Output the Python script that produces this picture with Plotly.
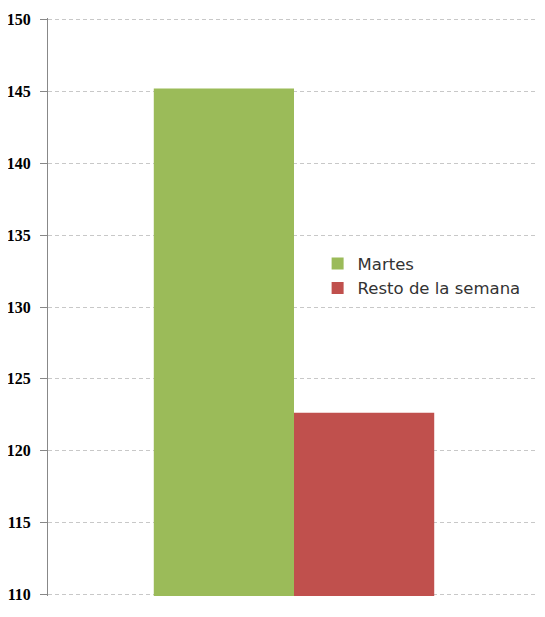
import plotly.graph_objects as go

categories = [""]
series_names = ["Martes", "Resto de la semana"]
series_values = [[145.2], [122.65]]
colors = ["#9BBB59", "#C0504D"]
y_ticks = [110, 115, 120, 125, 130, 135, 140, 145, 150]

fig = go.Figure()
for name, vals, col in zip(series_names, series_values, colors):
    fig.add_trace(go.Bar(x=categories, y=vals, name=name, marker=dict(color=col, line=dict(width=0))))

fig.update_layout(
    width=537, height=609,
    margin=dict(l=40, r=5, t=9.56, b=20.56),
    paper_bgcolor="white", plot_bgcolor="white",
    barmode="group", bargap=0.43, bargroupgap=0,
    showlegend=True,
    legend=dict(x=0.548, y=0.605, xanchor="left", yanchor="top",
                font=dict(family="DejaVu Sans", size=16.5, color="#333333"),
                bgcolor="rgba(0,0,0,0)", tracegroupgap=0),
    xaxis=dict(showticklabels=False, showline=False, showgrid=False, zeroline=False, ticks=""),
    yaxis=dict(range=[109.9, 150.1], tickvals=y_ticks, ticks="outside", ticklen=7, tickcolor="#888888",
               showline=True, linecolor="#888888", linewidth=1, automargin=False,
               showgrid=True, gridcolor="#C8C8C8", griddash="4px,3px", gridwidth=1,
               zeroline=False,
               tickfont=dict(family="Liberation Serif", size=16, color="#000000", weight="bold"),
               ticklabelstandoff=6),
)
fig.write_html("out.html")
